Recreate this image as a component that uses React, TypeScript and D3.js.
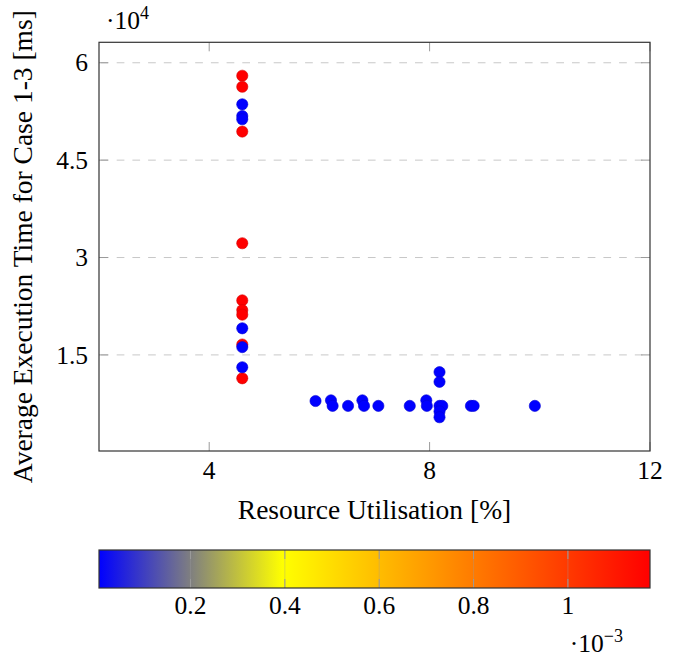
import React from 'react';
import * as d3 from 'd3';

// Resource utilisation (%) per run
const utilisation = [
  4.6, 4.6, 4.6, 4.6, 4.6, 4.6, 4.6, 4.6, 4.6,
  4.6, 4.6, 4.6, 4.6, 4.6, 4.6,
  5.93, 6.21, 6.24, 6.52, 6.78, 6.81, 7.07, 7.64, 7.94, 7.95,
  8.18, 8.18, 8.18, 8.23, 8.18, 8.18, 8.75, 8.8, 9.91,
];

// Average execution time (ms) for cases 1-3
const execTime = [
  58000, 56300, 49400, 32200, 23400, 21900, 21200, 16600, 11400,
  53600, 51800, 51300, 19100, 16200, 13100,
  7900, 8000, 7150, 7150, 8000, 7150, 7150, 7150, 8000, 7150,
  12350, 10850, 7150, 7150, 6300, 5400, 7150, 7150, 7150,
];

// Point meta value driving the colour map
const metaValue = [
  1.174e-3, 1.174e-3, 1.174e-3, 1.174e-3, 1.174e-3, 1.174e-3, 1.174e-3, 1.174e-3, 1.174e-3,
  6e-6, 6e-6, 6e-6, 6e-6, 6e-6, 6e-6,
  6e-6, 6e-6, 6e-6, 6e-6, 6e-6, 6e-6, 6e-6, 6e-6, 6e-6, 6e-6,
  6e-6, 6e-6, 6e-6, 6e-6, 6e-6, 6e-6, 6e-6, 6e-6, 6e-6,
];

const xTicks = [4, 8, 12];
const yTicks = [15000, 30000, 45000, 60000];
const yTickLabels = ['1.5', '3', '4.5', '6'];
const cbTicks = [0.2e-3, 0.4e-3, 0.6e-3, 0.8e-3, 1e-3];
const cbTickLabels = ['0.2', '0.4', '0.6', '0.8', '1'];
const colormap = ['rgb(0,0,255)', 'rgb(255,255,0)', 'rgb(255,128,0)', 'rgb(255,0,0)'];

const W = 675;
const H = 658;
const FONT = '"Liberation Serif", "Times New Roman", serif';
const TICK_FS = 25.5;
const LABEL_FS = 27.5;

const plot = { left: 99, right: 650, top: 42.3, bottom: 451 };
const bar = { left: 99, right: 650, top: 550, bottom: 588 };

export default function App() {
  const x = d3.scaleLinear().domain([2, 12]).range([plot.left, plot.right]);
  const y = d3.scaleLinear().domain([200, 63150]).range([plot.bottom, plot.top]);

  const [mMin, mMax] = d3.extent(metaValue) as [number, number];
  const stopDomain = colormap.map((_, i) => mMin + ((mMax - mMin) * i) / (colormap.length - 1));
  const color = d3.scaleLinear<string>().domain(stopDomain).range(colormap).interpolate(d3.interpolateRgb);
  const cb = d3.scaleLinear().domain([mMin, mMax]).range([bar.left, bar.right]);

  const tickLen = 9;
  const tickColor = '#9a9a9a';
  const frameColor = '#333';

  return (
    <svg
      width={W}
      height={H}
      style={{ position: 'absolute', left: 0, top: 0, background: '#fff' }}
      fontFamily={FONT}
    >
      <defs>
        <linearGradient id="cmap" x1="0" x2="1" y1="0" y2="0">
          {colormap.map((c, i) => (
            <stop key={i} offset={`${(i / (colormap.length - 1)) * 100}%`} stopColor={c} />
          ))}
        </linearGradient>
      </defs>

      {/* horizontal dashed grid */}
      {yTicks.map((t) => (
        <line
          key={`g${t}`}
          x1={plot.left}
          x2={plot.right}
          y1={y(t)}
          y2={y(t)}
          stroke="#c8c8c8"
          strokeWidth={1}
          strokeDasharray="7.7 8"
          strokeDashoffset={-2}
        />
      ))}

      {/* ticks on all four sides */}
      {yTicks.map((t) => (
        <g key={`yt${t}`} stroke={tickColor} strokeWidth={1}>
          <line x1={plot.left} x2={plot.left + tickLen} y1={y(t)} y2={y(t)} />
          <line x1={plot.right - tickLen} x2={plot.right} y1={y(t)} y2={y(t)} />
        </g>
      ))}
      {xTicks.map((t) => (
        <g key={`xt${t}`} stroke={tickColor} strokeWidth={1}>
          <line x1={x(t)} x2={x(t)} y1={plot.bottom} y2={plot.bottom - tickLen} />
          <line x1={x(t)} x2={x(t)} y1={plot.top} y2={plot.top + tickLen} />
        </g>
      ))}

      {/* scatter marks */}
      {utilisation.map((u, i) => {
        const c = color(metaValue[i]);
        return (
          <circle
            key={`p${i}`}
            cx={x(u)}
            cy={y(execTime[i])}
            r={5.6}
            fill={c}
            stroke={d3.color(c)!.darker(0.5).formatRgb()}
            strokeWidth={0.6}
          />
        );
      })}

      {/* frame */}
      <rect
        x={plot.left}
        y={plot.top}
        width={plot.right - plot.left}
        height={plot.bottom - plot.top}
        fill="none"
        stroke={frameColor}
        strokeWidth={1.2}
      />

      {/* tick labels */}
      {yTicks.map((t, i) => (
        <text key={`yl${t}`} x={88} y={y(t) + 0.338 * TICK_FS} textAnchor="end" fontSize={TICK_FS}>
          {yTickLabels[i]}
        </text>
      ))}
      {xTicks.map((t) => (
        <text key={`xl${t}`} x={x(t)} y={479} textAnchor="middle" fontSize={TICK_FS}>
          {t}
        </text>
      ))}

      {/* scale factor of y axis */}
      <text x={106} y={29} fontSize={TICK_FS}>
        ·10<tspan fontSize={18} dy={-10}>4</tspan>
      </text>

      {/* axis labels */}
      <text x={(plot.left + plot.right) / 2} y={519} textAnchor="middle" fontSize={LABEL_FS}>
        Resource Utilisation [%]
      </text>
      <text
        transform={`translate(32, ${(plot.top + plot.bottom) / 2}) rotate(-90)`}
        textAnchor="middle"
        fontSize={LABEL_FS}
      >
        Average Execution Time for Case 1-3 [ms]
      </text>

      {/* colour bar */}
      <rect
        x={bar.left}
        y={bar.top}
        width={bar.right - bar.left}
        height={bar.bottom - bar.top}
        fill="url(#cmap)"
      />
      {cbTicks.map((t) => (
        <g key={`ct${t}`} stroke={tickColor} strokeWidth={1}>
          <line x1={cb(t)} x2={cb(t)} y1={bar.top} y2={bar.top + tickLen} />
          <line x1={cb(t)} x2={cb(t)} y1={bar.bottom} y2={bar.bottom - tickLen} />
          <line x1={cb(t)} x2={cb(t)} y1={bar.top} y2={bar.bottom} strokeOpacity={0.35} />
        </g>
      ))}
      <rect
        x={bar.left}
        y={bar.top}
        width={bar.right - bar.left}
        height={bar.bottom - bar.top}
        fill="none"
        stroke={frameColor}
        strokeWidth={1.2}
      />
      {cbTicks.map((t, i) => (
        <text key={`cl${t}`} x={cb(t)} y={614} textAnchor="middle" fontSize={TICK_FS}>
          {cbTickLabels[i]}
        </text>
      ))}
      <text x={623} y={652} textAnchor="end" fontSize={TICK_FS}>
        ·10<tspan fontSize={18} dy={-10}>−3</tspan>
      </text>
    </svg>
  );
}
